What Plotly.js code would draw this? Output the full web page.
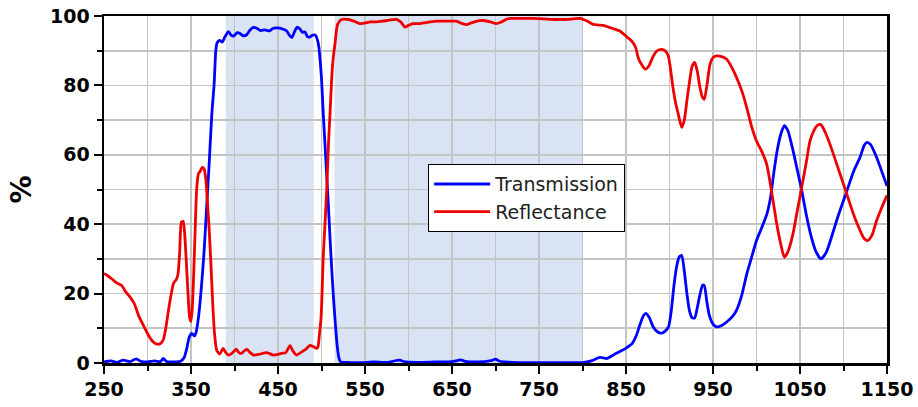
<!DOCTYPE html>
<html>
<head>
<meta charset="utf-8">
<script src="https://cdn.plot.ly/plotly-3.0.1.min.js"></script>
<style>html,body{margin:0;padding:0;background:#fff;}#chart{width:918px;height:407px;}</style>
</head>
<body>
<div id="chart"></div>
<script>
// Transmission curve (wavelength nm, %)
const wlT = [250,258,265,272,280,287,292,300,308,315,318,322,330,338,342,345,348,351,354,356,359,362,365,368,371,374,376.5,378.5,380,383,386,389,393,396,399,403,406,410,414,418,422,426,430,435,440,444,448,452,456,460,463,466,469,472,475,478,481,484,487,490,493,495.5,497,498.5,500,502,504,506,508,510,512,514,516,518,520,522,530,545,560,575,590,595,610,630,650,660,665,680,695,700,705,720,740,760,780,800,810,820,828,836,843,850,857,862,866,870,873,877,881,886,891,895,899,902,905,908,911,914,917,920,923,926,929,932,935,938,940,943,946,950,954,960,966,972,977,983,989,995,1000,1006,1012,1016,1020,1024,1028,1032,1036,1042,1047,1052,1057,1062,1068,1074,1080,1085,1094,1104,1112,1119,1124,1127,1131,1138,1145,1150];
const transmission = [0.3,0.6,0.2,0.8,0.4,1.2,0.5,0.3,0.6,0.4,1.3,0.4,0.3,0.5,1.5,4,7.5,8.5,7.8,9,14,22,32,45,58,72,80,90,92.3,93,92.5,94,95.5,94.5,94.2,95.2,95,94.3,94.6,96,96.7,96.4,95.8,96,95.7,96.4,96.6,96.5,96.2,95.7,94.5,93.8,95.5,96.8,96.3,95.3,95.4,94,94,94.5,94.5,93,91,87,82,72,63,54,45,35,26,18,11,5,1.5,0.3,0.2,0.1,0.3,0.2,0.8,0.4,0.2,0.3,0.4,0.9,0.5,0.3,0.7,1.1,0.5,0.2,0.1,0.1,0.1,0.1,0.6,1.6,1.3,2.4,3.3,4.3,5.6,8,11,13.6,14.3,13,10.5,9,8.6,9.2,10.5,15,22,27.5,30.5,31,26.5,20,15,13,13,16,19.7,22.4,22.3,17.5,13.5,11.2,10.4,10.8,11.9,13.3,15.2,19.5,25.8,31,35.3,39,43,47.5,55,61.5,66,68.4,67,61.2,55.5,49.7,43,37.3,32.3,30,31.8,35.3,42.5,49.7,55.5,59.3,62.8,63.6,63,59.3,54.5,51];

// Reflectance curve (wavelength nm, %)
const wlR = [250,255,260,265,270,275,280,285,290,295,300,305,310,314,318,321,324,327,330,333,335,337,339,341,342.5,344,345.5,347,348.5,350,351.5,353,355,356.5,358.5,361,363,365,367,369,371,373,375,377,379.5,383,387,390,393,397,402,405,408,414,418,422,428,437,444.6,450,454,459,463.8,467,471.5,476,482,486.8,490,494.5,496,497.5,499.5,502,504,506,508,510,511.7,513.5,515.5,518.5,523,530,537,544,550,556,563,570,578,586,591,596,600,605,611,617,625,633,640,647.7,655,662,667,672,680,686,694,701,706,712,716.7,725,735,743.5,755,765,775,782,790,797,801,806,812,818,824,830,836,843,850,856.5,861,864,868,872,876,881.5,886,891,895,898.6,901,904,907,910,914,917,920,923,926,929,932,935,938,940,943,946.5,950,954,960,965.5,971,977,983,988.7,994,1000,1006,1011.6,1015,1019,1023,1027,1032,1036,1042,1047,1052,1057,1061.5,1066,1070,1074,1079,1084.5,1094,1103.6,1112,1119,1124,1128,1133,1138,1144,1150];
const reflectance = [25.8,25,24,23,22.4,20.5,19,17,13.5,11,8.5,6.5,5.5,5.5,6.6,10,15,19.5,23,24,25.5,32,40.6,40.8,38,32,25,18,13,12,16,25,40,50,54.5,55.5,56.4,56,53,46,38,28,17,8.6,3.7,2.6,4.2,3,2.3,2.8,4,3,2.8,4,3,2.3,2.5,3,2.3,2.5,2.8,3,5,3.5,2.3,3,4,5.1,4.8,4.2,4.7,8,13,30.5,40,50,63,73,82,88,92,97.6,99,99,98.5,97.8,98,98.3,98.3,98.5,98.8,99,98.3,96.8,97.3,97.8,97.8,98,98.3,98.5,98.5,98.5,98.5,97.8,97.5,98,98.6,98.7,98.3,97.8,98.2,99,99.3,99.3,99.3,99.3,99.2,99,99,99,99.2,99.3,99,98.5,97.6,97.4,97.3,96.8,96.3,95.7,94.2,92.8,91,88,86,84.7,85.5,88.5,90,90.4,90,88.5,85,79.4,75,71.8,67.9,70,75.6,81,85.5,86.6,84,79.4,76.5,76,80,86,88,88.5,88.3,87.6,85.5,82.3,78.5,73.7,68.5,64,61,57.4,53,46.8,40.5,35.3,30.5,32,37.3,44,50.7,57.5,64,67,68.5,68.7,66.5,63,56,48.8,42.5,38.2,35.8,35.3,37,41,44.8,48.3];

// Shaded bands (nm)
const bandStarts = [390, 515];
const bandEnds = [491, 800];

const seriesNames = ['Transmission', 'Reflectance'];

const traces = [
  {x: wlT, y: transmission, name: seriesNames[0], type: 'scatter', mode: 'lines',
   line: {color: '#0000ff', width: 2.8, shape: 'spline', smoothing: 0.6}},
  {x: wlR, y: reflectance, name: seriesNames[1], type: 'scatter', mode: 'lines',
   line: {color: '#ee0000', width: 2.8, shape: 'spline', smoothing: 0.6}}
];

const shapes = bandStarts.map((s, i) => ({
  type: 'rect', xref: 'x', yref: 'paper', x0: s, x1: bandEnds[i], y0: 0, y1: 1,
  fillcolor: '#dae3f3', line: {width: 0}, layer: 'below'
}));

const tickFont = {family: 'DejaVu Sans', size: 19, color: '#000', weight: 'bold'};

const layout = {
  width: 918, height: 407,
  margin: {l: 104, r: 31, t: 16, b: 44},
  paper_bgcolor: '#fff', plot_bgcolor: '#fff',
  showlegend: true,
  legend: {
    x: 0.414, y: 0.573, xanchor: 'left', yanchor: 'top',
    bgcolor: '#fff', bordercolor: '#000', borderwidth: 1,
    font: {family: 'DejaVu Sans', size: 19, color: '#222'},
    itemwidth: 56
  },
  xaxis: {
    range: [250, 1150], tick0: 250, dtick: 100,
    ticks: 'outside', ticklen: 8, tickwidth: 2, tickcolor: '#000',
    showline: true, linewidth: 2.5, linecolor: '#000', mirror: true,
    showgrid: true, gridcolor: '#c4c4c4', gridwidth: 1.6, zeroline: false,
    tickfont: tickFont,
    minor: {dtick: 50, ticks: 'outside', ticklen: 5, tickwidth: 2, tickcolor: '#000',
            showgrid: true, gridcolor: '#c4c4c4', gridwidth: 1.6}
  },
  yaxis: {
    range: [0, 100], tick0: 0, dtick: 20,
    ticks: 'outside', ticklen: 8, tickwidth: 2, tickcolor: '#000',
    showline: true, linewidth: 2.5, linecolor: '#000', mirror: true,
    showgrid: true, gridcolor: '#c4c4c4', gridwidth: 1.6, zeroline: false,
    tickfont: tickFont,
    title: {text: '%', font: {family: 'DejaVu Sans', size: 28, color: '#000', weight: 'bold'}, standoff: 10},
    minor: {dtick: 10, ticks: 'outside', ticklen: 5, tickwidth: 2, tickcolor: '#000',
            showgrid: true, gridcolor: '#c4c4c4', gridwidth: 1.6}
  },
  shapes: shapes
};

Plotly.newPlot('chart', traces, layout, {displayModeBar: false, staticPlot: true});
</script>
</body>
</html>
